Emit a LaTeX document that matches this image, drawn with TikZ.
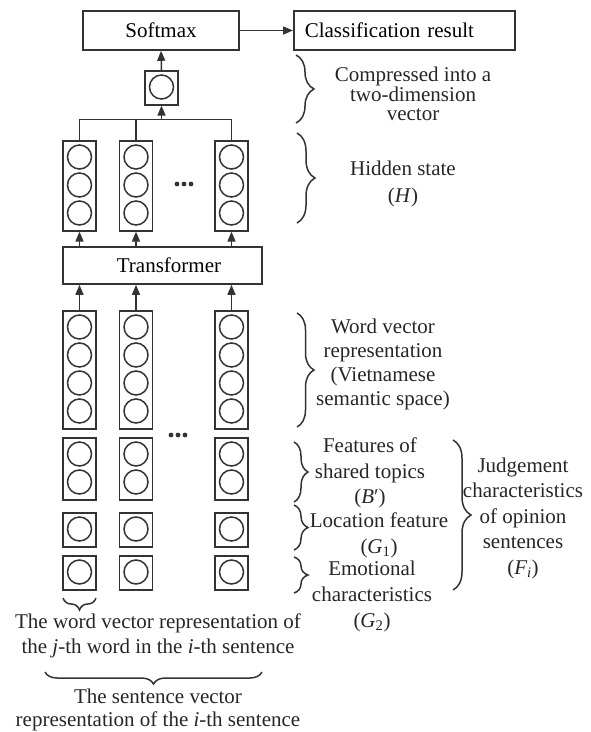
\documentclass[tikz,border=0pt]{standalone}
\usepackage{fontspec}
\setmainfont{Liberation Serif}
\usetikzlibrary{arrows.meta,decorations.pathreplacing}

\tikzset{
    box/.style={draw=black!80, line width=1.6pt, inner sep=0pt},
    unit/.style={circle, draw=black!80, line width=1.5pt, minimum size=24pt, inner sep=0pt},
    arr/.style={-{Triangle[length=10pt,width=8pt]}, draw=black!80, line width=1.5pt},
    brc/.style={decorate, decoration={brace, amplitude=#1}, draw=black!80, line width=1.5pt},
    lbl/.style={align=center, text=black!85, inner sep=0pt},
}

% vector column: name, x, top, number of units
\newcommand{\drawvec}[4]{
    \node[box, minimum width=33pt, minimum height={#4*28+6}, anchor=north] (#1) at (#2,#3) {};
    \foreach \k in {1,...,#4}{
        \node[unit] (#1u\k) at (#2,{#3+3+(\k-0.5)*28}) {};
    }
}
% three dots between columns
\newcommand{\drawdots}[2]{
    \foreach \d in {-7,0,7}{
        \fill[black!80] ({#1+\d},#2) circle [radius=2.4];
    }
}

\begin{document}
\begin{tikzpicture}[x=1pt, y=-1pt, font=\fontsize{21}{24}\selectfont]
        \useasboundingbox (0,0) rectangle (590,732);

        % Output
        \node[box, minimum width=156pt, minimum height=39pt] (softmax) at (161,30.5) {Softmax\hspace{14pt}};
        \node[box, minimum height=39pt, anchor=west, inner xsep=11pt, text width=199pt, align=left] (result) at (293,30.5) {Classification result};
        \draw[arr] (softmax.east) -- (result.west);

        % Compressed vector
        \drawvec{cv}{161.5}{70}{1}
        \draw[arr] (cv.north) -- (softmax.south);

        % Hidden state
        \def\y{140}
        \drawvec{h1}{79.5}{\y}{3}
        \drawvec{h2}{136}{\y}{3}
        \drawvec{h3}{231.5}{\y}{3}
        \drawdots{184}{184}
        \coordinate (bus) at (161.5,119.5);
        \draw[box] (h1.north) -- (h1.north |- bus) -- (h3.north |- bus) -- (h3.north);
        \draw[box] (h2.north) -- (h2.north |- bus);
        \draw[arr] (bus) -- (cv.south);

        % Transformer
        \node[box, minimum width=199pt, minimum height=37pt] (trans) at (162.5,265.5) {\hspace{13pt}Transformer};
        \foreach \c in {h1,h2,h3}{
            \draw[arr] (\c.south |- trans.north) -- (\c.south);
        }

        % Word vectors
        \def\y{310}
        \drawvec{w1}{79.5}{\y}{4}
        \drawvec{w2}{136}{\y}{4}
        \drawvec{w3}{231.5}{\y}{4}
        \foreach \c in {w1,w2,w3}{
            \draw[arr] (\c.north) -- (\c.north |- trans.south);
        }
        \drawdots{178}{435}

        % Shared topics, location, emotion
        \drawvec{b1}{79.5}{437}{2}
        \drawvec{b2}{136}{437}{2}
        \drawvec{b3}{231.5}{437}{2}
        \drawvec{g1}{79.5}{512}{1}
        \drawvec{g2}{136}{512}{1}
        \drawvec{g3}{231.5}{512}{1}
        \drawvec{e1}{79.5}{555}{1}
        \drawvec{e2}{136}{555}{1}
        \drawvec{e3}{231.5}{555}{1}

        % Right braces and labels
        \draw[brc=18] (296,55) -- (296,123);
        \node[lbl, font=\fontsize{21}{19}\selectfont] (lcomp) at (413,94) {Compressed into a\\two-dimension\\vector};
        \draw[brc=18] (297,133) -- (297,223);
        \node[lbl, font=\fontsize{21}{27}\selectfont] (lhid) at (403,183.5) {Hidden state\\(\textit{H})};
        \draw[brc=17] (297,313) -- (297,427);
        \node[lbl] (lword) at (383,364) {Word vector\\representation\\(Vietnamese\\semantic space)};
        \draw[brc=14] (294,442) -- (294,502);
        \node[lbl, font=\fontsize{21}{25.5}\selectfont] (lshare) at (370,473) {Features of\\shared topics\\(\textit{B}′)};
        \draw[brc=14] (294,505) -- (294,550);
        \node[lbl, font=\fontsize{21}{26}\selectfont] (lloc) at (379,535) {Location feature\\(\textit{G}\textsubscript{1})};
        \draw[brc=14] (294,557) -- (294,593);
        \node[lbl, font=\fontsize{21}{26}\selectfont] (lemo) at (372,596) {Emotional\\characteristics\\(\textit{G}\textsubscript{2})};
        \draw[brc=18] (453,440) -- (453,590);
        \node[lbl, font=\fontsize{21}{25.5}\selectfont] (ljud) at (523,518) {Judgement\\characteristics\\of opinion\\sentences\\(\textit{F\textsubscript{i}})};

        % Bottom braces and labels
        \draw[brc=12] (96,598) -- (63,598);
        \node[lbl, font=\fontsize{21}{25}\selectfont] (lwv) at (158,635.5) {The word vector representation of\\the \textit{j}-th word in the \textit{i}-th sentence};
        \draw[brc=12] (262,672) -- (45,672);
        \node[lbl, font=\fontsize{21}{23}\selectfont] (lsv) at (158,709.5) {The sentence vector\\representation of the \textit{i}-th sentence};
\end{tikzpicture}
\end{document}
